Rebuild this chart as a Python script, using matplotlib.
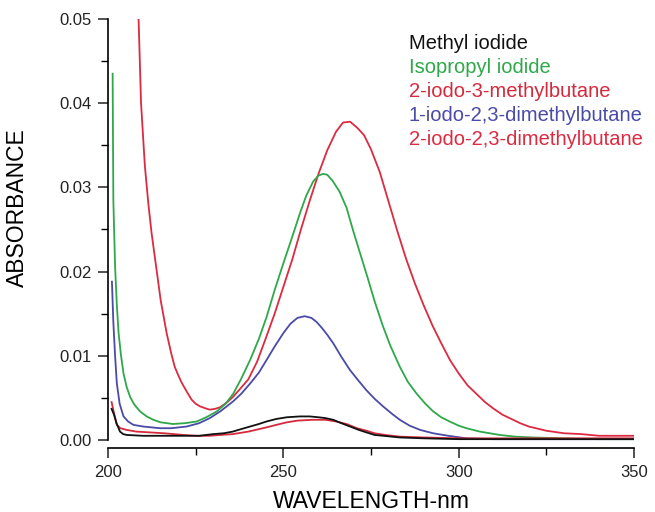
import numpy as np
import matplotlib
matplotlib.use("Agg")
import matplotlib.pyplot as plt
from matplotlib.ticker import MultipleLocator

plt.rcParams['font.family'] = ['Liberation Sans', 'DejaVu Sans']

# spectra (wavelength in nm, absorbance)
methyl_wl = [201, 201.7, 202.4, 203.4, 204.3, 205.3, 210, 216.7, 222, 226, 230, 233, 235.6, 238,
             240.5, 243, 245.2, 248, 251, 254.7, 257.5, 260, 262, 264.2, 266.5, 269, 271.5, 273.7,
             276, 278.5, 283.2, 290, 300, 320, 350]
methyl_abs = [0.0037, 0.0030, 0.0020, 0.0010, 0.0007, 0.0006, 0.0005, 0.0005, 0.0005, 0.0005, 0.0007,
              0.0008, 0.0010, 0.0013, 0.0016, 0.0019, 0.0022, 0.0025, 0.0027, 0.0028, 0.0028, 0.0027,
              0.0026, 0.0024, 0.0020, 0.0016, 0.0012, 0.0009, 0.0006, 0.0005, 0.0003, 0.0002, 0.0001,
              0.0001, 0.0001]

isopropyl_wl = [201.3, 201.5, 202, 202.5, 203, 203.7, 204.4, 205.3, 206.3, 207.5, 209.1, 211, 212.9,
                215, 218.5, 222, 225.3, 228, 231, 233.5, 235.7, 238, 240.5, 243, 245.2, 247.5, 250,
                252.5, 254.7, 256.5, 258.5, 260, 261.3, 262.5, 264, 266, 268, 270, 272, 274, 276,
                278.4, 280.5, 283.2, 285.5, 288, 290.5, 292.7, 295, 297.4, 300, 302.2, 306, 311.7,
                316, 321, 330, 340, 350]
isopropyl_abs = [0.0435, 0.0285, 0.0206, 0.0160, 0.0127, 0.0100, 0.0079, 0.0063, 0.0051, 0.0042, 0.0034,
                 0.0028, 0.0024, 0.0021, 0.0019, 0.0020, 0.0022, 0.0027, 0.0034, 0.0043, 0.0055, 0.0073,
                 0.0095, 0.0120, 0.0146, 0.0178, 0.0210, 0.0241, 0.0269, 0.0290, 0.0307, 0.0314, 0.0316,
                 0.0315, 0.0308, 0.0295, 0.0276, 0.0247, 0.0220, 0.0193, 0.0165, 0.0135, 0.0112, 0.0087,
                 0.0069, 0.0055, 0.0043, 0.0034, 0.0027, 0.0022, 0.0017, 0.0014, 0.0010, 0.0006, 0.0004,
                 0.0003, 0.0002, 0.0001, 0.0001]

iodo3m_wl = [201, 201.8, 202.5, 203.5, 205.3, 208, 212, 216, 221.5, 225, 229, 232, 235.6, 240,
             245.2, 248, 251, 254, 258.4, 262, 265, 268, 271, 273.7, 276, 279, 283.2, 290, 300,
             320, 350]
iodo3m_abs = [0.0045, 0.0030, 0.0018, 0.0014, 0.0012, 0.0010, 0.0009, 0.0008, 0.0006, 0.0005, 0.0005,
              0.0006, 0.0007, 0.0010, 0.0015, 0.0018, 0.0021, 0.0023, 0.0024, 0.0024, 0.0022, 0.0019,
              0.0014, 0.0011, 0.0008, 0.0006, 0.0004, 0.0003, 0.0002, 0.0002, 0.0002]

iodo123_wl = [201.1, 201.5, 202, 202.5, 203.3, 204.4, 205.7, 207.2, 210, 214.8, 218, 222.4, 226, 229,
              232, 235.7, 238, 240.5, 243, 245.2, 247.5, 250, 252, 254, 256.1, 258, 259.5, 261, 262.5,
              264.2, 266.5, 269, 271.5, 273.7, 276, 278.4, 281, 283.2, 286, 289, 292.7, 297, 302.2,
              310, 350]
iodo123_abs = [0.0188, 0.0140, 0.0100, 0.0067, 0.0043, 0.0028, 0.0022, 0.0018, 0.0016, 0.0014, 0.0014,
               0.0016, 0.0020, 0.0026, 0.0034, 0.0046, 0.0055, 0.0067, 0.0080, 0.0095, 0.0111, 0.0127,
               0.0138, 0.0145, 0.0147, 0.0145, 0.0140, 0.0133, 0.0125, 0.0115, 0.0099, 0.0083, 0.0070,
               0.0059, 0.0049, 0.0040, 0.0031, 0.0024, 0.0017, 0.0012, 0.0008, 0.0005, 0.0002, 0.0001,
               0.0001]

iodo223_wl = [208.7, 209.4, 210.5, 211.5, 212.4, 213.7, 215, 216.7, 218, 219, 220, 221, 222.5, 223.8,
              225, 226.2, 227.5, 229, 230.5, 232, 234, 235.6, 237.5, 240, 242.5, 245, 247.5, 250,
              252.5, 255, 257.5, 260, 262.5, 265, 267, 269, 271, 273, 275, 277.5, 280, 282.5, 285,
              287.5, 290, 292.5, 295, 297.5, 300, 302.5, 305, 307.5, 310, 312.5, 315, 317.5, 320, 325,
              330, 335, 340, 345, 350]
iodo223_abs = [0.0500, 0.0400, 0.0325, 0.0280, 0.0246, 0.0206, 0.0166, 0.0127, 0.0103, 0.0087, 0.0077,
               0.0068, 0.0057, 0.0048, 0.0043, 0.0040, 0.0038, 0.0036, 0.0037, 0.0039, 0.0045, 0.0051,
               0.0060, 0.0072, 0.0093, 0.0121, 0.0150, 0.0182, 0.0214, 0.0250, 0.0284, 0.0316, 0.0344,
               0.0366, 0.0377, 0.0378, 0.0371, 0.0362, 0.0345, 0.0318, 0.0283, 0.0248, 0.0215, 0.0186,
               0.0160, 0.0136, 0.0115, 0.0095, 0.0079, 0.0065, 0.0055, 0.0045, 0.0037, 0.0030, 0.0025,
               0.0020, 0.0016, 0.0011, 0.0008, 0.0007, 0.0005, 0.0005, 0.0005]

labels = ['Methyl iodide', 'Isopropyl iodide', '2-iodo-3-methylbutane',
          '1-iodo-2,3-dimethylbutane', '2-iodo-2,3-dimethylbutane']
colours = ['#111111', '#2ea84a', '#d42a3c', '#4a4aa8', '#dc2a40']

series = [(methyl_wl, methyl_abs), (isopropyl_wl, isopropyl_abs), (iodo3m_wl, iodo3m_abs),
          (iodo123_wl, iodo123_abs), (iodo223_wl, iodo223_abs)]

fig = plt.figure(figsize=(6.55, 5.12), dpi=100)
ax = fig.add_axes([0.165, 0.125, 0.803, 0.838])

# draw in an order so the black line sits on top of the lower red one
order = [4, 1, 3, 2, 0]
for i in order:
    wl, ab = series[i]
    ax.plot(wl, ab, color=colours[i], lw=1.3, solid_joinstyle='round')

ax.set_xlim(200, 350)
ax.set_ylim(-0.00095, 0.05)
ax.set_xticks([200, 250, 300, 350])
ax.set_yticks([0.00, 0.01, 0.02, 0.03, 0.04, 0.05])
ax.set_yticklabels(['0.00', '0.01', '0.02', '0.03', '0.04', '0.05'])
ax.xaxis.set_minor_locator(MultipleLocator(25))
ax.yaxis.set_minor_locator(MultipleLocator(0.005))

for side in ['top', 'right']:
    ax.spines[side].set_visible(False)
ax.spines['left'].set_bounds(0, 0.05)
ax.spines['left'].set_linewidth(1.2)
ax.spines['bottom'].set_linewidth(1.2)

ax.tick_params(axis='both', which='major', direction='out', length=7, width=1.1,
               labelsize=12, colors='#222222', pad=5)
ax.tick_params(axis='both', which='minor', direction='out', length=5, width=1.0)

ax.set_xlabel('WAVELENGTH-nm', fontsize=16.5)
ax.xaxis.set_label_coords(0.5, -0.098)
ax.set_ylabel('ABSORBANCE', fontsize=16.5)
ax.yaxis.set_label_coords(-0.15, 0.56)

for k, (lab, col) in enumerate(zip(labels, colours)):
    ax.text(0.572, 0.942 - k * 0.056, lab, color=col, fontsize=14.5,
            transform=ax.transAxes, va='center', ha='left')

fig.savefig('out.png', dpi=100)
